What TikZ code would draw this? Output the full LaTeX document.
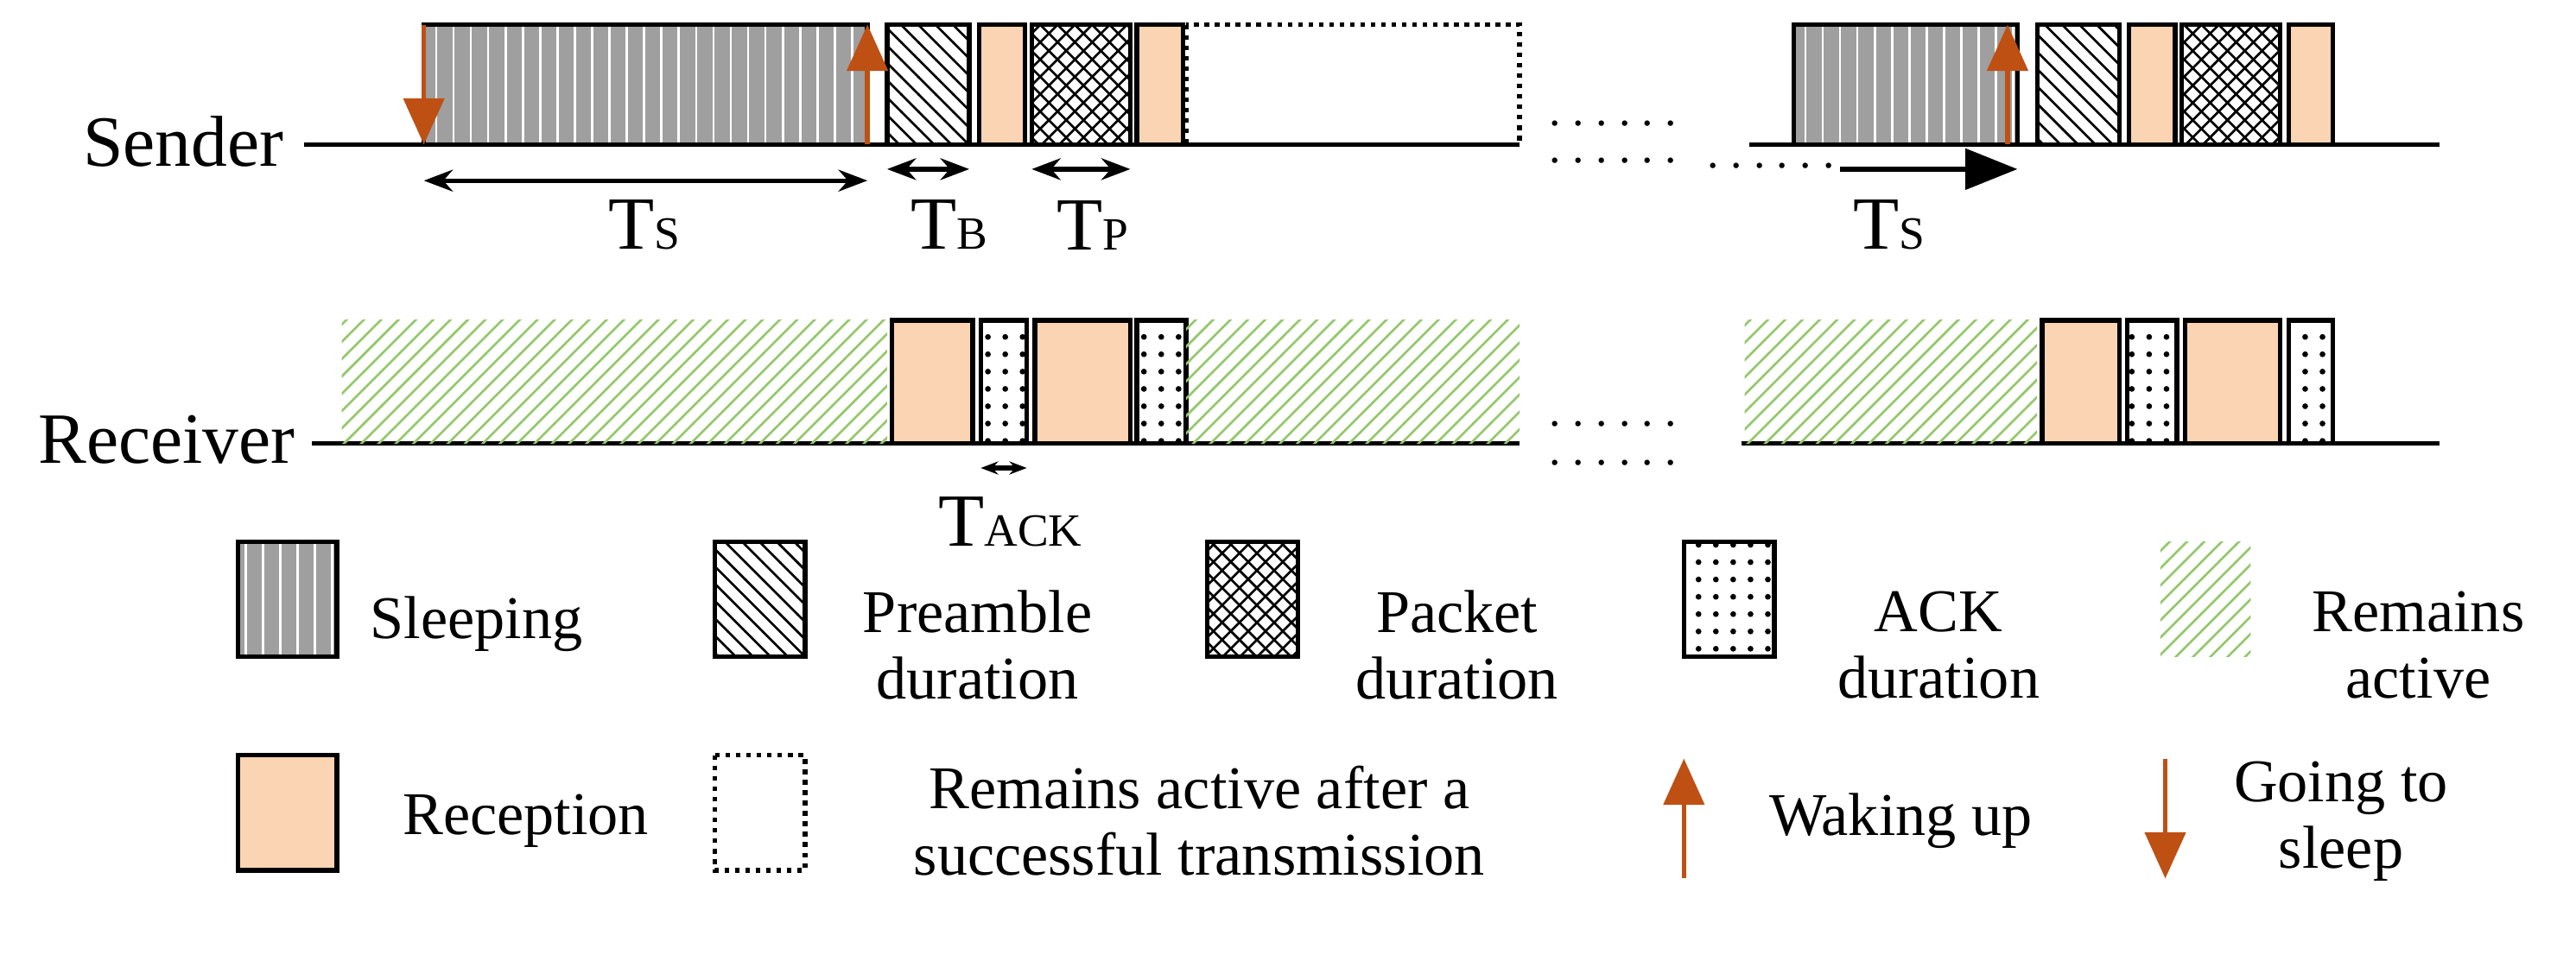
\documentclass[tikz,border=0pt]{standalone}
\usepackage{fontspec}
\setmainfont{Liberation Serif}
\usetikzlibrary{patterns,arrows.meta}
\definecolor{brn}{RGB}{190,80,20}
\definecolor{rec}{RGB}{251,212,180}
\definecolor{grn}{RGB}{150,200,110}
\begin{document}
\begin{tikzpicture}[x=0.01cm,y=-0.01cm,
 every node/.style={font=\rmfamily\fontsize{10.5}{11.5}\selectfont},
 sl/.style={draw,thick,preaction={fill=gray!75},pattern=vertical lines,pattern color=white},
 pr/.style={draw,thick,pattern=north west lines},
 pk/.style={draw,thick,pattern=crosshatch},
 ak/.style={draw,thick,pattern=dots},
 rc/.style={draw,thick,fill=rec},
 ga/.style={pattern=north east lines,pattern color=grn},
 da/.style={draw,thick,densely dotted},
 wk/.style={brn,thick,-{Triangle[length=8pt,width=7pt]}},
 dim/.style={thick,{Stealth[length=5pt]}-{Stealth[length=5pt]}},
 dots/.style={font=\rmfamily\fontsize{8}{9}\selectfont,inner sep=0pt},
 lab/.style={font=\rmfamily\fontsize{13}{14}\selectfont}]
\useasboundingbox (0,0) rectangle (1568,585);
% sender
\node[anchor=east,font=\rmfamily\fontsize{12.5}{14}\selectfont] (snd) at (185,86) {Sender};
\draw[thick] (185,88) -- (925,88);
\draw[thick] (1065,88) -- (1485,88);
\draw[sl] (258,15) rectangle (528,88);
\draw[pr] (540,15) rectangle (590,88);
\draw[rc] (596,15) rectangle (624,88);
\draw[pk] (628,15) rectangle (688,88);
\draw[rc] (692,15) rectangle (720,88);
\draw[da] (722,15) rectangle (925,88);
\draw[wk] (258,15) -- (258,88);
\draw[wk] (528,88) -- (528,15);
\draw[sl] (1092,15) rectangle (1228,88);
\draw[pr] (1240,15) rectangle (1290,88);
\draw[rc] (1296,15) rectangle (1324,88);
\draw[pk] (1328,15) rectangle (1388,88);
\draw[rc] (1393,15) rectangle (1420,88);
\draw[wk] (1222,88) -- (1222,15);
\node[dots] (d1) at (982,75) {.\ .\ .\ .\ .\ .};
\node[dots] (d2) at (982,98) {.\ .\ .\ .\ .\ .};
\node[dots] (d3) at (1078,101) {.\ .\ .\ .\ .\ .};
\coordinate (a1) at (258,110); \coordinate (a2) at (528,110);
\draw[dim] (a1) -- (a2);
\node[lab] (ts) at (392,137) {T{\fontsize{8}{9}\selectfont S}};
\coordinate (b1) at (540,103); \coordinate (b2) at (590,103);
\draw[dim] (b1) -- (b2);
\node[lab] (tb) at (578,137) {T{\fontsize{8}{9}\selectfont B}};
\coordinate (p1) at (628,103); \coordinate (p2) at (688,103);
\draw[dim] (p1) -- (p2);
\node[lab] (tp) at (665,137) {T{\fontsize{8}{9}\selectfont P}};
\coordinate (c1) at (1120,103); \coordinate (c2) at (1228,103);
\draw[thick,-{Triangle[length=9pt,width=7pt]}] (c1) -- (c2);
\node[lab] (ts2) at (1150,137) {T{\fontsize{8}{9}\selectfont S}};
% receiver
\node[anchor=east,font=\rmfamily\fontsize{12.5}{14}\selectfont] (rcv) at (192,268) {Receiver};
\draw[thick] (190,270) -- (925,270);
\draw[thick] (1060,270) -- (1485,270);
\fill[ga] (208,195) rectangle (540,270);
\draw[rc] (543,195) rectangle (592,270);
\draw[ak] (597,195) rectangle (625,270);
\draw[rc] (630,195) rectangle (688,270);
\draw[ak] (692,195) rectangle (722,270);
\fill[ga] (722,195) rectangle (925,270);
\fill[ga] (1062,195) rectangle (1240,270);
\draw[rc] (1243,195) rectangle (1290,270);
\draw[ak] (1295,195) rectangle (1325,270);
\draw[rc] (1330,195) rectangle (1388,270);
\draw[ak] (1393,195) rectangle (1420,270);
\node[dots] (d4) at (982,258) {.\ .\ .\ .\ .\ .};
\node[dots] (d5) at (982,282) {.\ .\ .\ .\ .\ .};
\coordinate (k1) at (597,285); \coordinate (k2) at (625,285);
\draw[thick,{Stealth[length=3pt]}-{Stealth[length=3pt]}] (k1) -- (k2);
\node[lab] (tack) at (615,318) {T{\fontsize{8}{9}\selectfont ACK}};
% legend row 1
\draw[sl] (145,330) rectangle (205,400);
\node (l1) at (290,380) {Sleeping};
\draw[pr] (435,330) rectangle (490,400);
\node[align=center] (l2) at (595,393) {Preamble\\duration};
\draw[pk] (735,330) rectangle (790,400);
\node[align=center] (l3) at (887,393) {Packet\\duration};
\draw[ak] (1025,330) rectangle (1080,400);
\node[align=center] (l4) at (1180,393) {ACK\\duration};
\fill[ga] (1315,330) rectangle (1370,400);
\node[align=center] (l5) at (1472,393) {Remains\\active};
% legend row 2
\draw[rc] (145,460) rectangle (205,530);
\node (l6) at (320,500) {Reception};
\draw[da] (435,460) rectangle (490,530);
\node[align=center] (l7) at (730,500) {Remains active after a\\successful transmission};
\draw[wk] (1025,535) -- (1025,462);
\node (l8) at (1157,500) {Waking up};
\draw[wk] (1318,462) -- (1318,535);
\node[align=center] (l9) at (1425,500) {Going to\\sleep};
\end{tikzpicture}
\end{document}
